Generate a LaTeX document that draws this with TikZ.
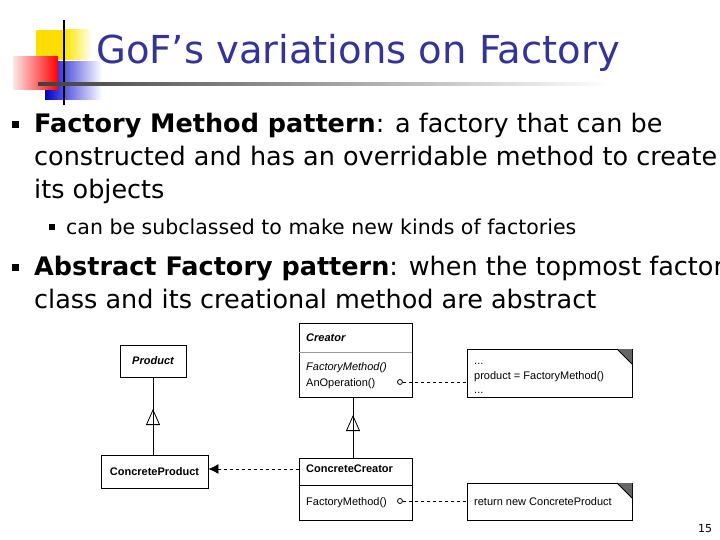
\documentclass[tikz,border=0pt]{standalone}
\usepackage{fontspec}
\setmainfont{DejaVu Sans}
\newfontfamily\uml{Liberation Sans}
\usetikzlibrary{arrows.meta}
\definecolor{ttl}{HTML}{333399}
\begin{document}
\begin{tikzpicture}[x=1pt,y=-1pt,
  body/.style={anchor=base west,inner sep=0pt,font=\fontsize{25.5}{25.5}\selectfont},
  sub/.style={anchor=base west,inner sep=0pt,font=\fontsize{20.5}{20.5}\selectfont},
  bul/.style={fill=black,minimum size=7pt,inner sep=0pt},
  cls/.style={draw,line width=0.8pt,fill=white},
  ut/.style={anchor=base west,inner sep=0pt,font=\uml\fontsize{11}{11}\selectfont},
  dashline/.style={dashed,line width=0.8pt},
  inh/.style={-{Triangle[open,length=16pt,width=14pt]},line width=0.8pt}]
\useasboundingbox (0,0) rectangle (720,540);
% logo
\fill[yellow!80!orange] (36,30) rectangle (65,60);
\shade[left color=yellow!80!orange,right color=white] (65,30) rectangle (92,60);
\shade[left color=blue!80!black,right color=white] (45,62) rectangle (102,100);
\shade[left color=red!10,right color=red] (13,57) rectangle (58,90);
\draw[line width=1.2pt] (64,20) -- (64,105);
\shade[left color=black!75,right color=white] (38,83) rectangle (610,86);
\node[anchor=base,inner sep=0pt,text=ttl,font=\fontsize{38.5}{38.5}\selectfont] (title) at (358,64) {GoF{\char"27}s variations on Factory};
% bullets
\node[bul] (b1) at (15,125) {};
\node[body] (l1) at (34,133) {\textbf{Factory Method pattern}: a factory that can be};
\node[body] (l2) at (34,166) {constructed and has an overridable method to create};
\node[body] (l3) at (34,199) {its objects};
\node[bul,minimum size=6pt] (b2) at (52,227) {};
\node[sub] (l4) at (66,234) {can be subclassed to make new kinds of factories};
\node[bul] (b3) at (15,267) {};
\node[body] (l5) at (34,275) {\textbf{Abstract Factory pattern}: when the topmost factory};
\node[body] (l6) at (34,308) {class and its creational method are abstract};
% UML
\node[cls,minimum width=66pt,minimum height=32pt] (prod) at (153,361) {};
\node[font=\uml\bfseries\itshape\fontsize{11}{11}\selectfont] at (prod) {Product};
\node[cls,minimum width=107pt,minimum height=33pt] (cprod) at (154.5,471.5) {};
\node[font=\uml\bfseries\fontsize{11}{11}\selectfont] at (cprod) {ConcreteProduct};
\node[cls,minimum width=113pt,minimum height=74pt] (crea) at (355.5,360) {};
\draw[line width=0.8pt,black!40] (299,352) -- (412,352);
\node[ut,font=\uml\bfseries\itshape\fontsize{11}{11}\selectfont] at (306,341) {Creator};
\node[ut,font=\uml\itshape\fontsize{11}{11}\selectfont] at (306,370) {FactoryMethod()};
\node[ut] (anop) at (306,386) {AnOperation()};
\node[cls,minimum width=113pt,minimum height=62pt] (ccrea) at (355.5,489) {};
\draw[line width=0.8pt] (299,485) -- (412,485);
\node[ut,font=\uml\bfseries\fontsize{11}{11}\selectfont] at (306,472) {ConcreteCreator};
\node[ut] (fm) at (306,505) {FactoryMethod()};
% notes
\node[cls,minimum width=165pt,minimum height=48pt] (n1) at (549.5,373) {};
\fill[black!60] (617,349) -- (632,349) -- (632,364) -- cycle;
\draw[line width=0.8pt] (617,349) -- (632,364);
\node[ut] at (474,364) {...};
\node[ut] at (474,379) {product = FactoryMethod()};
\node[ut] at (474,393) {...};
\node[cls,minimum width=165pt,minimum height=37pt] (n2) at (549.5,501.5) {};
\fill[black!60] (617,483) -- (632,483) -- (632,498) -- cycle;
\draw[line width=0.8pt] (617,483) -- (632,498);
\node[ut] at (474,505) {return new ConcreteProduct};
% connectors
\coordinate (c1) at (400,382);
\coordinate (c2) at (400,501);
\draw[line width=0.8pt] (c1) circle (2.5pt) (c2) circle (2.5pt);
\draw[dashline] (402.5,382) -- (n1.west |- c1);
\draw[dashline] (402.5,501) -- (n2.west |- c2);
\draw[line width=0.8pt] (cprod.north -| prod.south) -- (prod.south);
\draw[inh] (153,427) -- (153,409);
\draw[line width=0.8pt] (ccrea.north -| 353,0) -- (353,397);
\draw[inh] (353,433) -- (353,415);
\draw[dashline,-{Latex[length=10pt,width=10pt]}] (299,469) -- (cprod.east |- 0,469);
\node[font=\fontsize{11}{11}\selectfont] (pg) at (705,529) {15};
\end{tikzpicture}
\end{document}
